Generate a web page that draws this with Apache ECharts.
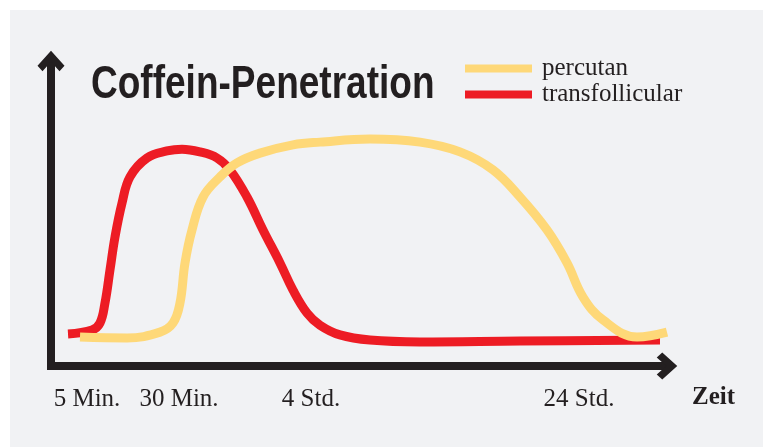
<!DOCTYPE html>
<html>
<head>
<meta charset="utf-8">
<script src="https://cdn.jsdelivr.net/npm/echarts@6/dist/echarts.min.js"></script>
<style>html,body{margin:0;padding:0;background:#fff}#c{width:763px;height:447px}</style>
</head>
<body>
<div id="c"></div>
<script>
// Data (x: position along the time axis, y: relative penetration)
const titleText = 'Coffein-Penetration';
const axisName = 'Zeit';
const seriesNames = ['percutan', 'transfollicular'];
const tickPositions = [9, 32, 65, 132];
const tickLabels = ['5 Min.', '30 Min.', '4 Std.', '24 Std.'];
const transfollicularX = [4.25, 10.25, 12.25, 13.5, 14.75, 16, 17.75, 19.75, 24, 29, 32.75, 37.25, 41.5, 44.75, 49, 53, 57.25, 60.5, 64, 67.25, 72.25, 79.75, 92.25, 117.25, 152.25];
const transfollicularY = [10.5, 11.8, 14.1, 20.7, 31.5, 42.3, 53.4, 62.0, 68.2, 70.5, 71.1, 70.2, 68.2, 64.3, 55.4, 44.6, 33.8, 24.9, 17.4, 13.4, 10.2, 8.5, 7.9, 8.2, 8.5];
const percutanX = [7.25, 19, 27.25, 30.5, 32.25, 33.5, 35.25, 38, 42.25, 46.5, 52.25, 60.5, 67.25, 79.75, 92.25, 102.25, 110.5, 117.25, 124, 129, 133, 138, 146.5, 154];
const percutanY = [9.5, 9.2, 11.1, 14.1, 20.7, 33.8, 44.6, 55.4, 62.0, 66.6, 69.8, 72.5, 73.4, 74.4, 73.4, 70.2, 64.3, 55.4, 44.6, 33.8, 22.6, 15.1, 9.5, 11.1];

const pairs = (xs, ys) => xs.map((x, i) => [x, ys[i]]);
const INK = '#231f20';
const chevron = 'path://M13.5,0 L27,15 L22,20.5 L13.5,11 L5,20.5 L0,15 Z';

const chart = echarts.init(document.getElementById('c'), null, {renderer: 'canvas'});
chart.setOption({
  backgroundColor: '#f1f2f4',
  animation: false,
  graphic: [
    {type: 'rect', left: 0, top: 0, shape: {width: 763, height: 10}, style: {fill: '#ffffff'}, z: -10},
    {type: 'rect', left: 0, top: 0, shape: {width: 10, height: 447}, style: {fill: '#ffffff'}, z: -10},
    {
      type: 'text', x: 91, y: 62, scaleX: 0.805, scaleY: 1,
      style: {text: titleText, font: 'bold 46px "Liberation Sans", Arial, sans-serif', fill: INK, verticalAlign: 'top', align: 'left'}
    }
  ],
  legend: {
    data: seriesNames,
    orient: 'vertical',
    left: 460, top: 51,
    icon: 'rect',
    itemWidth: 67, itemHeight: 8,
    itemGap: 1,
    textStyle: {fontFamily: '"Liberation Serif", serif', fontSize: 25, color: INK, padding: [0, 0, 0, 5]}
  },
  grid: {left: 51, right: 96, top: 61, bottom: 81},
  xAxis: {
    type: 'value', min: 0, max: 154,
    splitLine: {show: false},
    axisTick: {show: false},
    axisLine: {
      show: true, onZero: false,
      symbol: ['none', chevron], symbolSize: [27, 21], symbolOffset: [0, 0],
      lineStyle: {color: INK, width: 8, cap: 'square'}
    },
    axisLabel: {
      customValues: tickPositions,
      formatter: v => tickLabels[tickPositions.indexOf(v)] || '',
      margin: 21,
      fontFamily: '"Liberation Serif", serif', fontSize: 25, color: INK
    },
    name: '\n\n' + axisName, nameLocation: 'end', nameGap: 25,
    nameTextStyle: {fontFamily: '"Liberation Serif", serif', fontSize: 25, fontWeight: 'bold', color: INK, lineHeight: 32, align: 'left', verticalAlign: 'middle'}
  },
  yAxis: {
    type: 'value', min: 0, max: 100,
    splitLine: {show: false},
    axisTick: {show: false},
    axisLabel: {show: false},
    axisLine: {
      show: true, onZero: false,
      symbol: ['none', chevron], symbolSize: [27, 21], symbolOffset: [0, 0],
      lineStyle: {color: INK, width: 8, cap: 'square'}
    }
  },
  series: [
    {
      name: 'transfollicular', type: 'line', smooth: 0.4, showSymbol: false,
      data: pairs(transfollicularX, transfollicularY),
      itemStyle: {color: '#ed1c24'},
      lineStyle: {color: '#ed1c24', width: 9, cap: 'butt'}
    },
    {
      name: 'percutan', type: 'line', smooth: 0.4, showSymbol: false,
      data: pairs(percutanX, percutanY),
      itemStyle: {color: '#fed878'},
      lineStyle: {color: '#fed878', width: 9, cap: 'butt'}
    }
  ]
});
</script>
</body>
</html>
